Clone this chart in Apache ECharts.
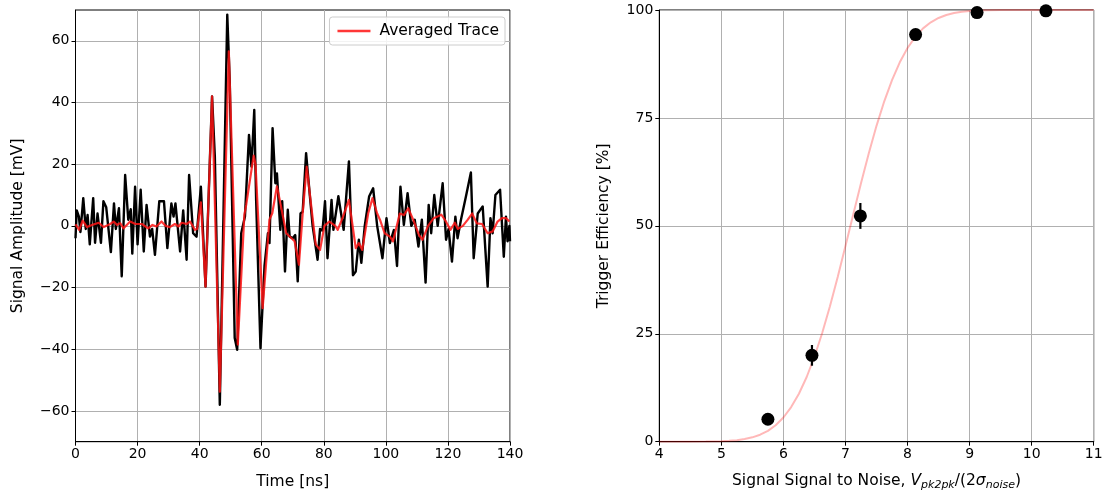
<!DOCTYPE html>
<html>
<head>
<meta charset="utf-8">
<script src="https://cdn.jsdelivr.net/npm/echarts@6/dist/echarts.min.js"></script>
<style>
html,body{margin:0;padding:0;background:#fff;}
#chart{width:1105px;height:494px;}
</style>
</head>
<body>
<div id="chart"></div>
<script>
// ---- Left panel: raw trace (time in ns, amplitude in mV) ----
const rawTime = [0,0.4,1.1,1.6,2.5,3.3,3.9,4.6,5.7,6.3,7.1,8.2,9.0,9.9,11.4,12.4,13.0,14.0,14.9,16.0,17.0,17.8,18.3,19.2,20.0,21.0,22.0,22.9,24.0,24.7,25.6,27.0,28.5,29.6,30.9,31.6,32.2,33.7,34.7,35.8,36.6,37.9,39.0,40.4,41.9,44.0,44.9,46.5,48.9,49.7,51.3,52.1,53.4,54.6,55.0,55.9,56.7,57.6,58.2,59.6,60.9,62.0,62.5,63.5,64.4,64.9,66.0,66.6,67.5,68.4,69.0,70.0,70.8,71.6,72.5,73.2,74.3,75.4,76.4,78.0,78.8,79.6,80.4,81.2,82.5,83.1,84.7,86.4,88.1,89.4,90.3,91.3,92.1,93.2,94.6,95.9,97.2,98.9,100.2,101.3,102.6,103.6,104.7,105.8,107.0,108.2,109.3,110.5,111.6,112.8,113.8,114.6,115.6,116.7,118.3,119.4,120.2,121.3,122.4,123.1,124.2,125.8,127.4,128.3,129.6,131.2,132.8,133.7,134.4,135.3,136.8,138.0,138.7,139.2,139.8,140];
const rawAmp = [-4,5,3,-2,9,-1,3.5,-6,9,-5.5,4,-5.5,8,6,-8.5,7.3,-1,5.7,-16.4,16.5,2,5.4,-9,12.7,-6,11.7,-8.3,6.8,-3.5,-1,-9.4,8,8,-7.2,7.3,3,7.3,-8.3,5,-11,16.5,-2.4,-3.5,12.7,-19.7,42,22.5,-58,68.5,47,-36.4,-40.2,-2.4,3,3,29.5,19.2,37.6,8.4,-39.7,-13,-2.4,-5.6,31.7,13.8,17,-1.3,8,-14.8,5.2,-3.5,-4,-3,-18,4,4.6,23.6,11,0,-11,-1,-1.5,8,-10.5,8.4,-1.3,9.6,-1.3,20.9,-16,-14.8,-4.5,-12,0,9.5,12.2,0,-10.5,2.5,-5.6,-1.3,-13,12.7,0.3,10.6,0,2,-6.7,2,-18.4,6.8,-2.4,10,0,13.8,-4.5,-1,-11.6,3,-4,2,9.5,17.3,-10.5,4,6.3,-19.7,2.5,-2.4,10,11.7,-10,3,-5,0,-5];

// ---- Left panel: averaged trace ----
const avgTime = [0,0.5,1.2,2.3,3.7,5.3,7.5,9.1,11.2,12.3,13.4,14.4,15.5,17.6,19.3,21.4,23.4,24.8,26.1,27.7,29.0,30.4,32.0,33.2,34.2,35.8,36.9,38.5,39.2,40.4,41.9,44.0,46.5,49.4,52.3,54.4,55.0,57.4,58.0,60.3,62.5,63.4,64.9,66.0,67.9,69.6,70.6,72.0,73.2,74.5,75.6,77.4,78.8,80.2,81.8,83.7,84.5,86.2,88.1,90.3,91.3,92.4,94.3,95.7,97.2,98.1,99.6,101.3,102.3,104.5,105.8,107.2,108.8,110.7,111.8,113.6,115.4,117.9,119.3,120.8,122.2,123.2,124.8,126.4,127.8,129.3,131.0,132.8,134.4,136.0,137.4,138.7,139.8,140];
const avgAmp = [0.5,0.9,-1.3,1.7,-0.4,0.3,1,-0.4,0.6,1.4,0.3,0.9,-0.8,1.4,0.6,0.6,-0.8,0.3,-0.2,1.4,0,-0.4,0.6,-0.2,1,0.6,1.4,-1.3,-1,7.6,-19.7,42,-53.8,56.6,-38.5,3.5,6.8,22.8,20,-26.7,2,4.1,12.8,7.4,-2.4,-4,-5,-12.6,4,19.2,9.5,-6,-7.8,0,1.4,0,-1.3,3,8.4,-7.2,-5.6,-7.8,4,9,4,2,-2.4,-3.5,-5,4,3.5,5.7,2,-3,-4.5,0,2.5,3.6,1.5,-1.3,1,-1,0,2,4,0.8,0.6,-2.4,-1.8,1.4,2.5,2.5,1.4,1.5];

const timeTicks = [0,20,40,60,80,100,120,140];
const ampTicks = [-60,-40,-20,0,20,40,60];

// ---- Right panel: trigger efficiency ----
const snr = [5.75,6.46,7.24,8.13,9.12,10.23];
const efficiency = [5.2,20.0,52.3,94.3,99.4,99.8];
const effError = [1.0,2.4,3.0,1.0,0.5,0.3];

// fitted curve, values
const fitX = [4,4.5,4.75,5,5.125,5.25,5.375,5.5,5.625,5.75,5.875,6,6.125,6.25,6.375,6.5,6.625,6.75,6.875,7,7.125,7.25,7.375,7.5,7.625,7.75,7.875,8,8.125,8.25,8.375,8.5,8.625,8.75,8.875,9,9.25,9.5,9.75,10,10.5,11];
const fitY = [0,0.01,0.03,0.11,0.2,0.36,0.61,1.01,1.62,2.52,3.82,5.61,8.01,11.11,14.99,19.68,25.17,31.38,38.16,45.31,52.63,59.87,66.78,73.17,78.85,83.77,87.88,91.2,93.78,95.74,97.16,98.16,98.85,99.3,99.59,99.76,99.93,99.98,100,100,100,100];

const snrTicks = [4,5,6,7,8,9,10,11];
const effTicks = [0,25,50,75,100];

const zip = (a, b) => a.map((v, i) => [v, b[i]]);
const minus = v => (v < 0 ? '\u2212' + Math.abs(v) : String(v));
const FONT = 'DejaVu Sans';
const gridColor = '#b0b0b0';
const NAME_SIZE = 15.5;

function axisCommon() {
  return {
    axisLine: { show: true, onZero: false, lineStyle: { color: '#000', width: 1 } },
    axisTick: { show: true, inside: false, length: 4, lineStyle: { color: '#000', width: 1 } },
    axisLabel: { color: '#000', fontSize: 14, fontFamily: FONT, margin: 6, formatter: minus },
    splitLine: { show: true, lineStyle: { color: gridColor, width: 1 } },
    nameTextStyle: { color: '#000', fontSize: NAME_SIZE, fontFamily: FONT },
    nameLocation: 'middle'
  };
}

const chart = echarts.init(document.getElementById('chart'), null, { renderer: 'canvas' });

const option = {
  animation: false,
  backgroundColor: '#fff',
  textStyle: { fontFamily: FONT },
  grid: [
    { left: 75.5, top: 10, width: 434.5, height: 431.7, show: true, borderColor: '#000', borderWidth: 1, containLabel: false, outerBoundsMode: 'none' },
    { left: 659.3, top: 10, width: 434.4, height: 431.7, show: true, borderColor: '#000', borderWidth: 1, containLabel: false, outerBoundsMode: 'none' }
  ],
  legend: {
    show: true,
    data: [{ name: 'Averaged Trace', icon: 'rect' }],
    right: 600,
    top: 17,
    itemWidth: 33,
    itemHeight: 2.5,
    itemGap: 8,
    padding: [6, 6, 6, 8],
    borderColor: '#cccccc',
    borderWidth: 1,
    borderRadius: 3,
    backgroundColor: 'rgba(255,255,255,0.85)',
    textStyle: { color: '#000', fontSize: 15.5, fontFamily: FONT, padding: [0, 0, 0, 4] }
  },
  xAxis: [
    Object.assign(axisCommon(), {
      gridIndex: 0, type: 'value', min: 0, max: 140, interval: 20,
      name: 'Time [ns]', nameGap: 32
    }),
    Object.assign(axisCommon(), {
      gridIndex: 1, type: 'value', min: 4, max: 11, interval: 1,
      name: '{n|Signal Signal to Noise, }{i|V}{s|pk2pk}{n|/(2}{i|σ}{s|noise}{n|)}',
      nameGap: 30,
      nameTextStyle: {
        color: '#000', fontSize: NAME_SIZE, fontFamily: FONT,
        rich: {
          n: { fontSize: NAME_SIZE, fontFamily: FONT, color: '#000', lineHeight: 19, verticalAlign: 'middle' },
          i: { fontSize: NAME_SIZE, fontFamily: FONT, color: '#000', fontStyle: 'italic', lineHeight: 19, verticalAlign: 'middle' },
          s: { fontSize: 11, fontFamily: FONT, color: '#000', fontStyle: 'italic', lineHeight: 19, verticalAlign: 'bottom' }
        }
      }
    })
  ],
  yAxis: [
    Object.assign(axisCommon(), {
      gridIndex: 0, type: 'value', min: -70, max: 70,
      axisTick: { show: true, inside: false, length: 4, lineStyle: { color: '#000', width: 1 }, customValues: ampTicks },
      axisLabel: { color: '#000', fontSize: 14, fontFamily: FONT, margin: 6, formatter: minus, customValues: ampTicks },
      name: 'Signal Amplitude [mV]', nameGap: 50
    }),
    Object.assign(axisCommon(), {
      gridIndex: 1, type: 'value', min: 0, max: 100, interval: 25,
      name: 'Trigger Efficiency [%]', nameGap: 47
    })
  ],
  series: [
    {
      type: 'line', xAxisIndex: 0, yAxisIndex: 0, name: 'Raw Trace',
      data: zip(rawTime, rawAmp), showSymbol: false, symbol: 'none',
      lineStyle: { color: '#000', width: 2.4, join: 'round' }, z: 2
    },
    {
      type: 'line', xAxisIndex: 0, yAxisIndex: 0, name: 'Averaged Trace',
      data: zip(avgTime, avgAmp), showSymbol: false, symbol: 'none',
      itemStyle: { color: 'rgba(255,20,20,0.85)' },
      lineStyle: { color: 'rgba(255,20,20,0.85)', width: 2.2, join: 'round' }, z: 3
    },
    {
      type: 'line', xAxisIndex: 1, yAxisIndex: 1, name: 'Fit',
      data: zip(fitX, fitY), showSymbol: false, symbol: 'none', smooth: false,
      lineStyle: { color: 'rgba(255,0,0,0.28)', width: 2 }, z: 2
    },
    {
      type: 'custom', xAxisIndex: 1, yAxisIndex: 1, name: 'Errors',
      data: snr.map((x, i) => [x, efficiency[i] - effError[i], efficiency[i] + effError[i]]),
      renderItem: function (params, api) {
        const lo = api.coord([api.value(0), api.value(1)]);
        const hi = api.coord([api.value(0), api.value(2)]);
        return { type: 'line', shape: { x1: lo[0], y1: lo[1], x2: hi[0], y2: hi[1] }, style: { stroke: '#000', lineWidth: 2.2 } };
      },
      z: 3
    },
    {
      type: 'scatter', xAxisIndex: 1, yAxisIndex: 1, name: 'Efficiency',
      data: zip(snr, efficiency), symbol: 'circle', symbolSize: 13, clip: false,
      itemStyle: { color: '#000', opacity: 1 }, z: 4
    }
  ]
};
chart.setOption(option);
</script>
</body>
</html>
